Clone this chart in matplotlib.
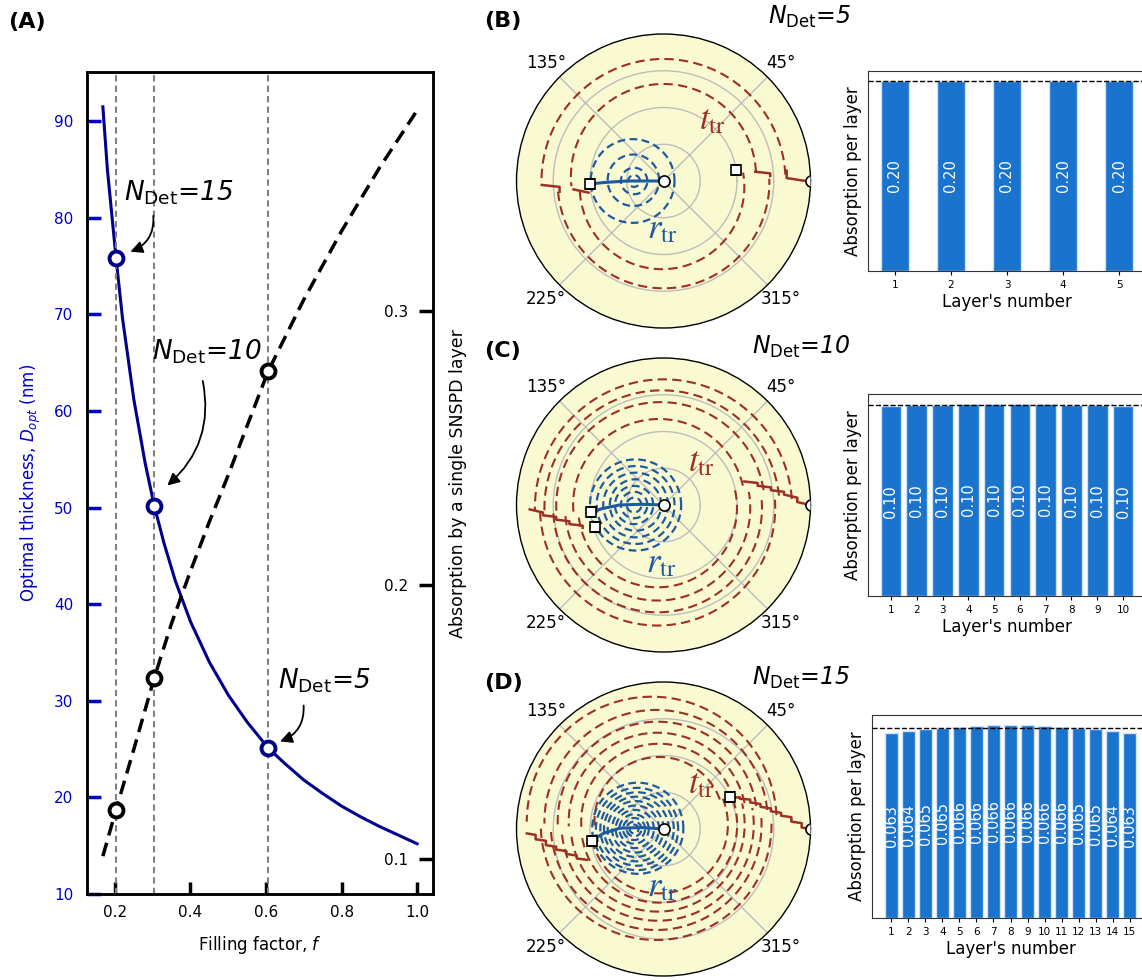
import numpy as np
import matplotlib.pyplot as plt

# ---- panel A: values ----
f_thick = [0.168, 0.18, 0.203, 0.22, 0.25, 0.28, 0.304, 0.33, 0.36, 0.4, 0.45, 0.5,
           0.55, 0.606, 0.65, 0.7, 0.75, 0.8, 0.85, 0.9, 0.95, 1.0]
d_opt = [91.5, 85.0, 75.8, 69.6, 61.2, 54.6, 50.2, 46.3, 42.4, 38.2, 34.0, 30.6,
         27.8, 25.1, 23.5, 21.8, 20.4, 19.1, 18.0, 17.0, 16.1, 15.2]
f_abs = [0.168, 0.203, 0.25, 0.304, 0.35, 0.4, 0.45, 0.5, 0.55, 0.606, 0.7, 0.8, 0.9, 1.0]
abs_single = [0.101, 0.118, 0.140, 0.166, 0.186, 0.205, 0.223, 0.240, 0.258, 0.278,
              0.304, 0.329, 0.352, 0.373]
f_marks = [0.203, 0.304, 0.606]
d_marks = [75.8, 50.2, 25.1]
a_marks = [0.118, 0.166, 0.278]

# ---- absorption per layer ----
abs5 = [0.200, 0.200, 0.200, 0.200, 0.200]
abs10 = [0.0990, 0.0997, 0.0999, 0.1003, 0.1005, 0.1005, 0.1003, 0.0999, 0.0997, 0.0990]
abs15 = [0.0634, 0.0641, 0.0648, 0.0653, 0.0657, 0.0661, 0.0663, 0.0664, 0.0663, 0.0661,
         0.0657, 0.0653, 0.0648, 0.0641, 0.0634]

# ---- complex-plane loci (x, y) ----
# arcs: (cx, cy, radius, start deg, end deg)
B_red_arcs = [(0.0, 0.0, 0.83, 3, 180), (0.0, -0.01, 0.72, 185, 362),
              (0.0, 0.03, 0.63, 3, 186), (-0.01, -0.04, 0.56, 183, 370)]
B_red_steps = [[(1.0, -0.005), (0.838, 0.02), (0.838, 0.07)],
               [(0.726, 0.034), (0.726, 0.052), (0.624, 0.063)],
               [(-0.828, -0.027), (-0.707, -0.04), (-0.707, -0.073)],
               [(-0.612, -0.057), (-0.51, -0.079)]]
B_blue_rings = [(-0.21, 0.0, 0.285), (-0.205, 0.005, 0.175), (-0.2, 0.0, 0.09), (-0.2, 0.0, 0.04)]
B_blue_path = [(0, 0), (-0.25, 0.0), (-0.4, -0.01), (-0.5, -0.02)]
B_squares = [(-0.5, -0.02), (0.494, 0.075)]

C_red_arcs = [(0.0, -0.02, 0.875, 4, 181), (-0.01, -0.02, 0.80, 6, 182),
              (-0.02, -0.01, 0.71, 9, 183), (-0.03, 0.0, 0.585, 13, 185),
              (-0.04, -0.02, 0.80, 182, 364), (-0.04, -0.02, 0.71, 183, 367),
              (-0.04, -0.02, 0.63, 185, 370), (-0.04, -0.02, 0.54, 187, 373)]
C_red_steps = [[(1.0, 0.0), (0.91, 0.02), (0.91, 0.05), (0.82, 0.07), (0.82, 0.09), (0.73, 0.10),
                (0.73, 0.12), (0.64, 0.13), (0.64, 0.15), (0.55, 0.16)],
               [(-0.91, -0.03), (-0.82, -0.05), (-0.82, -0.07), (-0.73, -0.08), (-0.73, -0.10),
                (-0.64, -0.11), (-0.64, -0.13), (-0.55, -0.14), (-0.55, -0.155)]]
C_blue_rings = [(-0.19, 0.0, 0.31), (-0.19, 0.0, 0.265), (-0.19, 0.0, 0.22), (-0.19, 0.0, 0.175),
                (-0.2, 0.0, 0.13), (-0.2, 0.0, 0.09), (-0.2, 0.0, 0.05)]
C_blue_path = [(0, 0), (-0.15, 0.005), (-0.3, 0.0), (-0.42, -0.025), (-0.49, -0.05)]
C_squares = [(-0.492, -0.05), (-0.469, -0.152)]

D_red_arcs = [(-0.08, 0.05, 0.85, 3, 180), (-0.05, 0.05, 0.76, 6, 181), (-0.04, 0.05, 0.68, 9, 182),
              (-0.04, 0.05, 0.605, 12, 183), (-0.03, 0.05, 0.53, 16, 184), (-0.03, 0.05, 0.44, 20, 186),
              (-0.05, 0.03, 0.785, 182, 362), (-0.05, 0.03, 0.717, 184, 366), (-0.04, 0.03, 0.654, 186, 370),
              (-0.04, 0.03, 0.592, 188, 374), (-0.03, 0.03, 0.531, 190, 378), (-0.03, 0.03, 0.468, 193, 382)]
D_red_steps = [[(1.0, 0.0), (0.94, 0.01), (0.94, 0.04), (0.87, 0.05), (0.87, 0.08), (0.80, 0.09),
                (0.80, 0.11), (0.73, 0.12), (0.73, 0.14), (0.66, 0.15), (0.66, 0.17), (0.59, 0.18),
                (0.59, 0.20), (0.52, 0.205), (0.52, 0.215), (0.45, 0.215)],
               [(-0.93, -0.03), (-0.87, -0.04), (-0.87, -0.07), (-0.80, -0.08), (-0.80, -0.11),
                (-0.73, -0.12), (-0.73, -0.14), (-0.66, -0.15), (-0.66, -0.17), (-0.59, -0.18),
                (-0.59, -0.20), (-0.52, -0.21)]]
D_blue_rings = [(-0.175, 0.005, 0.31), (-0.18, 0.0, 0.28), (-0.18, 0.0, 0.25), (-0.185, 0.0, 0.22),
                (-0.19, 0.0, 0.19), (-0.19, 0.0, 0.16), (-0.195, 0.0, 0.13), (-0.2, 0.0, 0.10),
                (-0.2, 0.0, 0.075), (-0.2, 0.0, 0.05), (-0.2, 0.0, 0.03)]
D_blue_path = [(0, 0), (-0.15, 0.01), (-0.3, 0.005), (-0.41, -0.03), (-0.49, -0.08)]
D_squares = [(-0.488, -0.082), (0.449, 0.215)]

RED = '#9e2f23'
BLUE = '#1e5aa0'
BAR = '#1a73cd'

W, H = 1142, 980
fig = plt.figure(figsize=(W / 100, H / 100), dpi=100)


def px_rect(x0, y0, x1, y1):
    return [x0 / W, 1 - y1 / H, (x1 - x0) / W, (y1 - y0) / H]


def to_polar(x, y):
    z = np.asarray(x, float) + 1j * np.asarray(y, float)
    return np.unwrap(np.angle(z)), np.abs(z)


def draw_arc(ax, cx, cy, r, a1, a2, **kw):
    phi = np.radians(np.linspace(a1, a2, 300))
    th, rr = to_polar(cx + r * np.cos(phi), cy + r * np.sin(phi))
    ax.plot(th, rr, **kw)


def draw_poly(ax, pts, **kw):
    xs, ys = [], []
    for (x0, y0), (x1, y1) in zip(pts[:-1], pts[1:]):
        xs.extend(np.linspace(x0, x1, 30))
        ys.extend(np.linspace(y0, y1, 30))
    th, rr = to_polar(xs, ys)
    ax.plot(th, rr, **kw)


# ================= panel A =================
ax = fig.add_axes(px_rect(87, 72, 433, 894))
ax.plot(f_thick, d_opt, color='darkblue', lw=2.2)
for f in f_marks:
    ax.axvline(f, color='gray', lw=1.5, ls=(0, (3, 2)))
ax.plot(f_marks, d_marks, 'o', ms=10, mfc='white', mec='darkblue', mew=2.8, zorder=6)
ax.set_xlim(0.126, 1.042)
ax.set_ylim(10, 95.1)
ax.set_yticks([10, 20, 30, 40, 50, 60, 70, 80, 90])
ax.set_xticks([0.2, 0.4, 0.6, 0.8, 1.0])
ax.tick_params(axis='y', colors='mediumblue', direction='in', length=10, width=2.5,
               labelsize=11, pad=10)
ax.tick_params(axis='x', direction='in', length=9, width=2.5, labelsize=11, pad=8)
ax.set_xlabel('Filling factor, $f$', fontsize=12, labelpad=10)
ax.set_ylabel('Optimal thickness, $D_{opt}$ (nm)', fontsize=12, color='mediumblue', labelpad=8)

ax2 = ax.twinx()
ax2.plot(f_abs, abs_single, color='black', lw=2.5, ls=(0, (4, 2.2)))
ax2.plot(f_marks, a_marks, 'o', ms=10, mfc='white', mec='black', mew=2.8, zorder=6)
ax2.set_ylim(0.0872, 0.387)
ax2.set_yticks([0.1, 0.2, 0.3])
ax2.tick_params(axis='y', direction='in', length=10, width=2.5, labelsize=11, pad=-18)
for lab in ax2.get_yticklabels():
    lab.set_horizontalalignment('right')
for a in (ax, ax2):
    for s in a.spines.values():
        s.set_linewidth(1.8)

ax.text(0.224, 81.8, r'$N_{\mathrm{Det}}$=15', fontsize=19, style='italic')
ax.text(0.298, 65.3, r'$N_{\mathrm{Det}}$=10', fontsize=19, style='italic')
ax.text(0.632, 31.3, r'$N_{\mathrm{Det}}$=5', fontsize=19, style='italic')
arrow = dict(arrowstyle='-|>', color='black', lw=1.3, mutation_scale=18)
ax.annotate('', xy=(0.234, 76.4), xytext=(0.301, 80.5),
            arrowprops=dict(arrow, connectionstyle='arc3,rad=-0.4'))
ax.annotate('', xy=(0.333, 52.1), xytext=(0.431, 63.4),
            arrowprops=dict(arrow, connectionstyle='arc3,rad=-0.3'))
ax.annotate('', xy=(0.630, 25.7), xytext=(0.699, 29.8),
            arrowprops=dict(arrow, connectionstyle='arc3,rad=-0.4'))

fig.text(458 / W, 1 - 484 / H, 'Absorption by a single SNSPD layer', rotation=90,
         ha='center', va='center', fontsize=12.5)


# ================= polar panels =================
def polar_panel(cy_px, red_arcs, red_steps, blue_rings, blue_path, squares):
    pax = fig.add_axes(px_rect(516.5, cy_px - 147, 810.5, cy_px + 147), projection='polar')
    pax.set_facecolor('#fafad2')
    pax.set_ylim(0, 1)
    pax.set_yticks([0.25, 0.5, 0.75])
    pax.set_yticklabels([])
    pax.set_xticks(np.radians([45, 135, 225, 315]))
    pax.set_xticklabels(['45°', '135°', '225°', '315°'])
    pax.tick_params(axis='x', labelsize=12)
    pax.grid(color='#bdbdbd', lw=1)
    pax.spines['polar'].set_linewidth(1)
    for cx, cy, r, a1, a2 in red_arcs:
        draw_arc(pax, cx, cy, r, a1, a2, color=RED, lw=1.5, ls=(0, (4.5, 2.5)))
    for pts in red_steps:
        draw_poly(pax, pts, color=RED, lw=1.8)
    for cx, cy, r in blue_rings:
        draw_arc(pax, cx, cy, r, 0, 360, color=BLUE, lw=1.6, ls=(0, (3.5, 2)))
    draw_poly(pax, blue_path, color=BLUE, lw=2.2)
    th, rr = to_polar([p[0] for p in squares], [p[1] for p in squares])
    pax.plot(th, rr, 's', ms=7, mfc='white', mec='black', mew=1.2, zorder=7)
    pax.plot([0, 0], [0, 1], 'o', ms=8, mfc='white', mec='black', mew=1.2, zorder=7)
    return pax


polar_panel(181, B_red_arcs, B_red_steps, B_blue_rings, B_blue_path, B_squares)
polar_panel(505, C_red_arcs, C_red_steps, C_blue_rings, C_blue_path, C_squares)
polar_panel(829, D_red_arcs, D_red_steps, D_blue_rings, D_blue_path, D_squares)

for (tx, ty), (rx, ry) in [((712, 119), (662, 228)), ((701, 461), (661, 562)), ((701, 783), (662, 886))]:
    fig.text(tx / W, 1 - ty / H, r'$t_{\mathrm{tr}}$', color=RED, fontsize=25,
             ha='center', va='center', math_fontfamily='stix')
    fig.text(rx / W, 1 - ry / H, r'$r_{\mathrm{tr}}$', color=BLUE, fontsize=25,
             ha='center', va='center', math_fontfamily='stix')


# ================= bar panels =================
def bar_panel(rect, vals, width, fmt):
    bax = fig.add_axes(rect)
    x = np.arange(1, len(vals) + 1)
    bax.bar(x, vals, width=width, color=BAR, edgecolor='#cfe2f7', lw=1)
    bax.axhline(np.mean(vals), color='black', ls='--', lw=1)
    for xi, v in zip(x, vals):
        bax.text(xi, v / 2, fmt % v, rotation=90, ha='center', va='center',
                 color='white', fontsize=10.5)
    bax.set_xticks(x)
    bax.set_yticks([])
    bax.tick_params(axis='x', labelsize=7.5, length=3)
    bax.set_ylabel('Absorption per layer', fontsize=12)
    bax.set_xlabel("Layer's number", fontsize=12, labelpad=2)
    for s in bax.spines.values():
        s.set_color('#333333')
    return bax


bar_panel(px_rect(868, 71, 1146, 271), abs5, 0.5, '%.2f')
bar_panel(px_rect(868, 394, 1146, 596), abs10, 0.8, '%.2f')
bar_panel(px_rect(872, 715, 1149, 918), abs15, 0.8, '%.3f')

# ================= titles and letters =================
for x, y, s in [(8, 28, '(A)'), (484, 27, '(B)'), (484, 357, '(C)'), (484, 689, '(D)')]:
    fig.text(x / W, 1 - y / H, s, fontsize=16, weight='bold', va='baseline')
for x, y, n in [(768, 24, 5), (752, 354, 10), (752, 685, 15)]:
    fig.text(x / W, 1 - y / H, r'$N_{\mathrm{Det}}$=%d' % n, fontsize=17, style='italic',
             va='baseline')

fig.savefig('out.png', dpi=100)
